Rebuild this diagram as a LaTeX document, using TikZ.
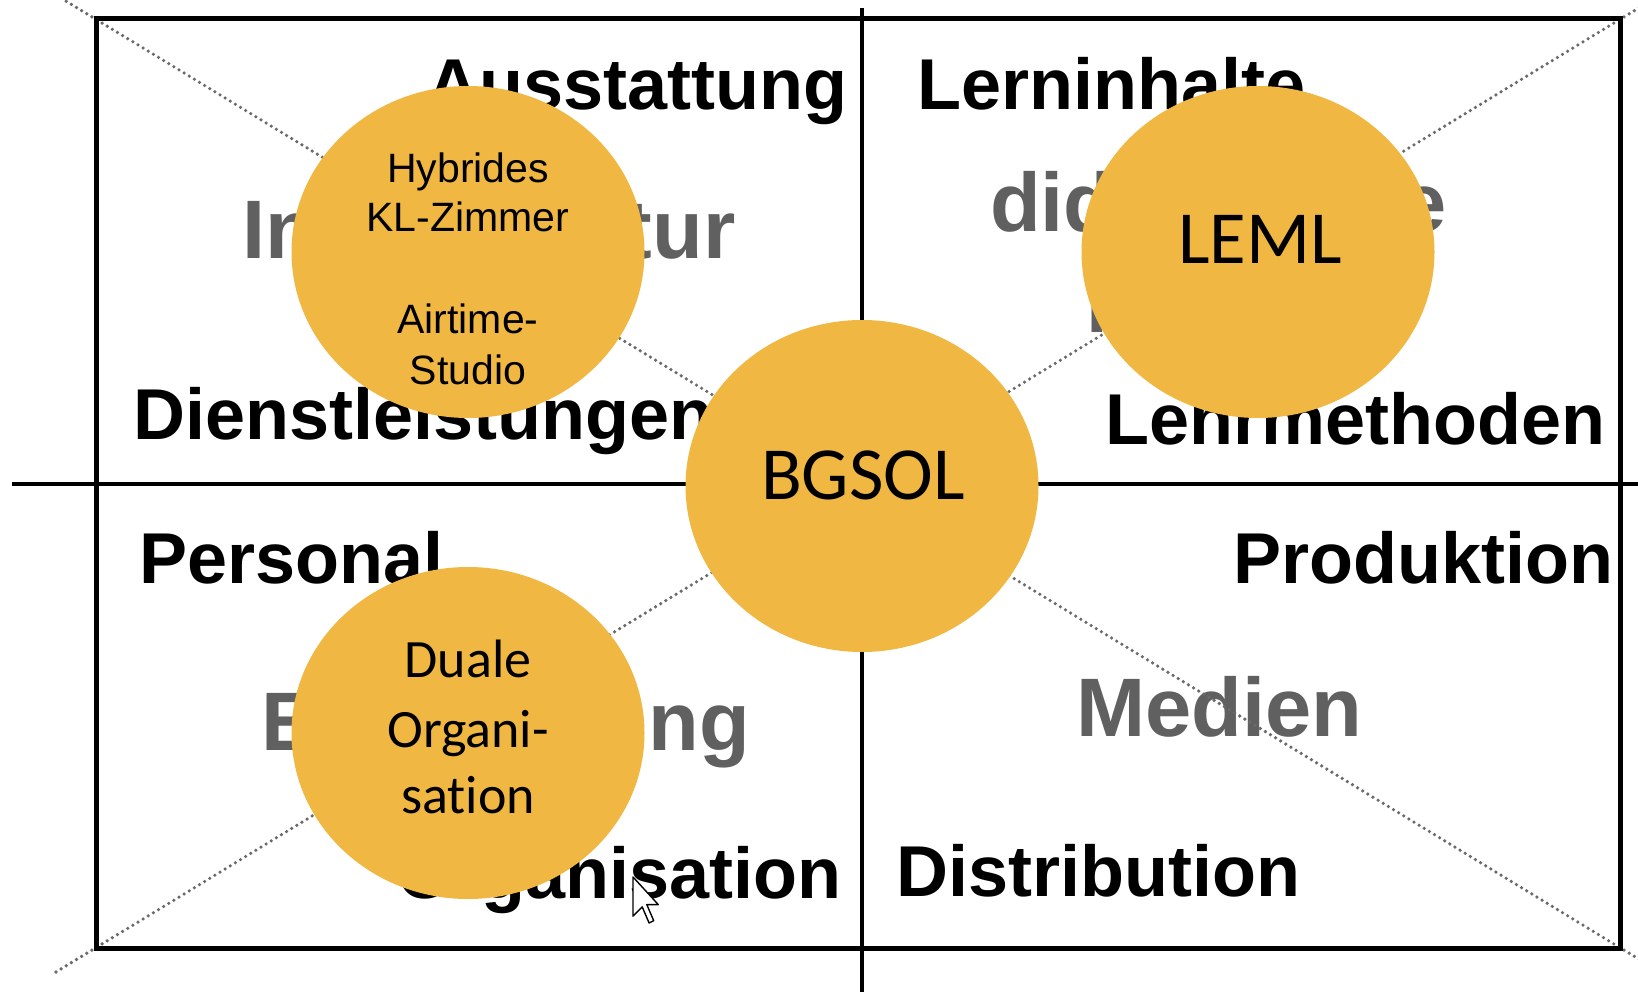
\documentclass[tikz,border=0pt]{standalone}
\usepackage{fontspec}
\setmainfont{Liberation Sans}
\newfontfamily\calib{Carlito}
\usetikzlibrary{shapes.geometric}
\definecolor{circ}{HTML}{F0B843}
\definecolor{grayt}{HTML}{606060}
\definecolor{dotc}{HTML}{6A6A6A}
\begin{document}
\begin{tikzpicture}[x=1pt,y=-1pt,
  blk/.style={font=\fontsize{72}{80}\selectfont\bfseries, text=black, inner sep=0pt},
  gry/.style={font=\fontsize{83}{98}\selectfont\bfseries, text=grayt, inner sep=0pt},
  blob/.style={ellipse, fill=circ, minimum width=353pt, minimum height=332pt, inner sep=0pt},
  small/.style={font=\fontsize{41}{50}\selectfont, text=black, inner sep=0pt, anchor=base},
  mid/.style={font=\calib\fontsize{54}{68}\selectfont, text=black, inner sep=0pt, anchor=base},
  big/.style={font=\calib\fontsize{75}{90}\selectfont, text=black, inner sep=0pt, anchor=base},
  frame/.style={line width=5pt, black},
  cross/.style={line width=4.5pt, black},
  diag/.style={line width=3.6pt, dotc, dash pattern=on 0pt off 6pt, line cap=round}]
\useasboundingbox (0,0) rectangle (1638,992);
\fill[white] (0,0) rectangle (1638,992);

% quadrant texts
\node[blk, anchor=base east] (ausst) at (848,110) {Ausstattung};
\node[gry, anchor=base west] (infra) at (242,259) {Infrastruktur};
\node[blk, anchor=base west] (dienst) at (133,439) {Dienstleistungen};
\node[blk, anchor=base west] (lernin) at (917,110) {Lerninhalte};
\node[gry, anchor=base west] (didakt) at (990,232) {didaktische};
\node[gry, anchor=base west] (modell) at (1086,332) {Modelle};
\node[blk, anchor=base east] (lehrm) at (1606,444) {Lehrmethoden};
\node[blk, anchor=base west] (person) at (139,583) {Personal};
\node[gry, anchor=base west] (entw) at (261,750) {Entwicklung};
\node[blk, anchor=base east] (organ) at (842,898) {Organisation};
\node[blk, anchor=base east] (prod) at (1614,583) {Produktion};
\node[gry, anchor=base west] (medien) at (1076,736) {Medien};
\node[blk, anchor=base west] (distr) at (896,896) {Distribution};

% frame, cross and diagonals
\coordinate (tl) at (96,19);
\coordinate (tr) at (1620,19);
\coordinate (br) at (1620,948);
\coordinate (bl) at (96,948);
\coordinate (tlx) at (56,-5);
\coordinate (trx) at (1660,-5);
\coordinate (brx) at (1660,972);
\coordinate (blx) at (56,972);
\coordinate (vt) at (862,8);
\coordinate (vb) at (862,992);
\coordinate (hl) at (12,484);
\coordinate (hr) at (1638,484);
\draw[diag] (tlx) -- (brx);
\draw[diag] (blx) -- (trx);
\draw[frame] (tl) -- (tr) -- (br) -- (bl) -- cycle;
\draw[cross] (vt) -- (vb);
\draw[cross] (hl) -- (hr);

% circles
\node[blob] (hyb) at (468,252) {};
\node[blob] (leml) at (1258,252) {};
\node[blob] (bgsol) at (862,486) {};
\node[blob] (duale) at (468,733) {};

\node[small] (h1) at (468,183) {Hybrides};
\node[small] (h2) at (468,232) {KL-Zimmer};
\node[small] (h3) at (468,334) {Airtime-};
\node[small] (h4) at (468,384) {Studio};

\node[big] (t1) at (1260,264) {LEML};
\node[big] (t2) at (863,499) {BGSOL};

\node[mid] (d1) at (468,677) {Duale};
\node[mid] (d2) at (468,747) {Organi-};
\node[mid] (d3) at (468,813) {sat\kern0pt ion};

% mouse pointer
\draw[fill=white, draw=black, line width=1.4pt, line join=round, shift={(633,877)}, scale=2.3]
  (0,0) -- (0,17) -- (4,13) -- (7,20) -- (9,19) -- (6,12) -- (11,12) -- cycle;
\end{tikzpicture}
\end{document}
